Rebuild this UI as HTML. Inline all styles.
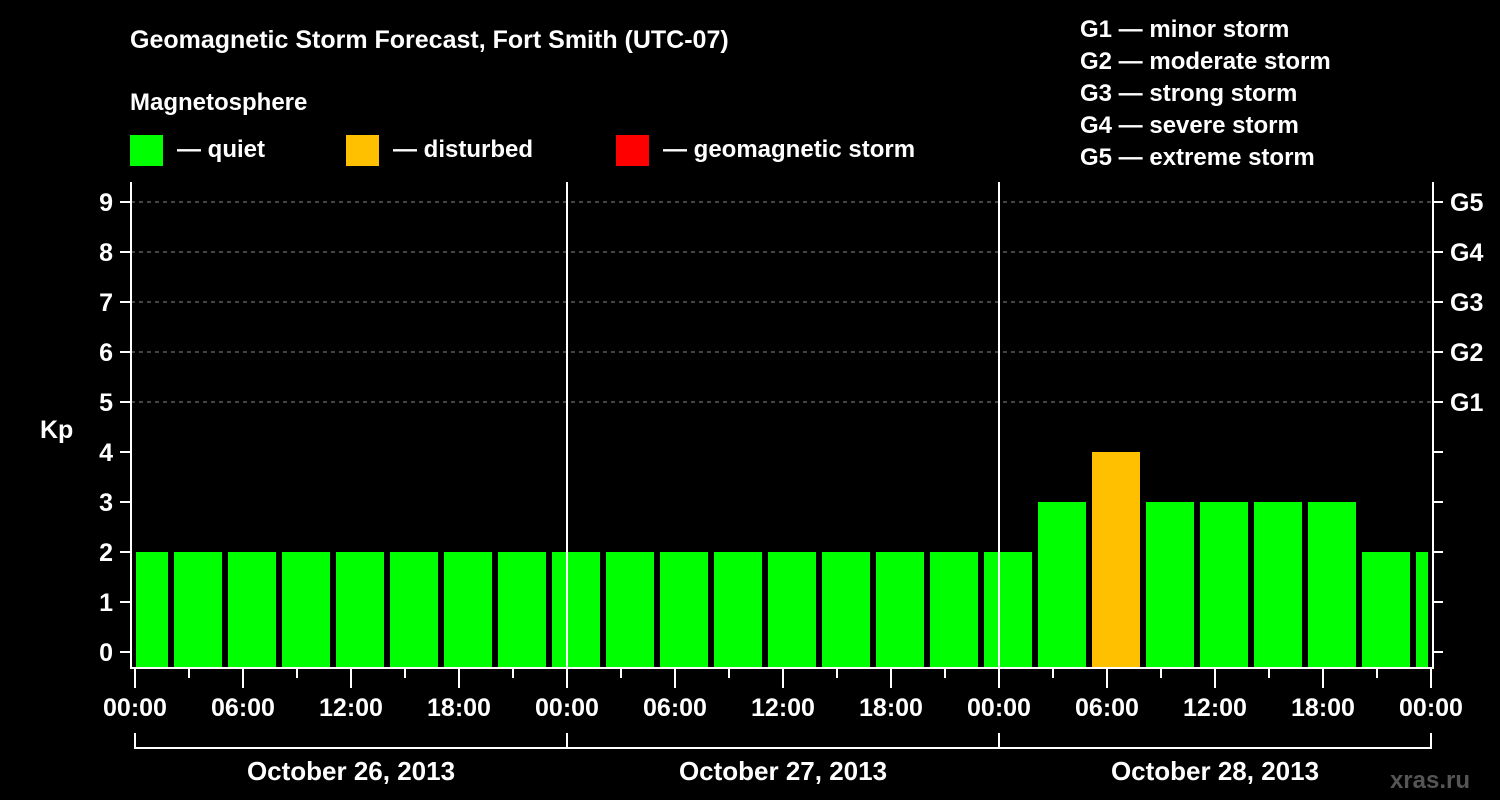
<!DOCTYPE html>
<html><head><meta charset="utf-8"><style>
body{margin:0;background:#000;width:1500px;height:800px;overflow:hidden}
svg{display:block;font-family:"Liberation Sans",Arial,sans-serif;font-weight:bold;fill:#fff}
</style></head><body>
<svg id="c" width="1500" height="800" viewBox="0 0 1500 800">
<text x="130" y="48" font-size="25">Geomagnetic Storm Forecast, Fort Smith (UTC-07)</text>
<text x="130" y="110" font-size="24">Magnetosphere</text>
<g><rect x="130" y="135" width="33" height="31" fill="#00ff00"/><text x="177" y="157" font-size="24">— quiet</text></g>
<g><rect x="346" y="135" width="33" height="31" fill="#ffc000"/><text x="393" y="157" font-size="24">— disturbed</text></g>
<g><rect x="616" y="135" width="33" height="31" fill="#ff0000"/><text x="663" y="157" font-size="24">— geomagnetic storm</text></g>
<g font-size="24">
<text x="1080" y="37">G1 — minor storm</text>
<text x="1080" y="69">G2 — moderate storm</text>
<text x="1080" y="101">G3 — strong storm</text>
<text x="1080" y="133">G4 — severe storm</text>
<text x="1080" y="165">G5 — extreme storm</text>
</g>
<text x="40" y="438" font-size="25">Kp</text>
<text x="1470" y="788" font-size="24" fill="#555" style="fill:#555" text-anchor="end">xras.ru</text>
<g id="plot"></g>
</svg>
<script>
const kpValues=[2,2,2,2,2,2,2,2,2,2,2,2,2,2,2,2,2,3,4,3,3,3,3,2,2];
const kpTicks=[0,1,2,3,4,5,6,7,8,9];
const gLabels=["G1","G2","G3","G4","G5"];
const hourLabels=["00:00","06:00","12:00","18:00","00:00","06:00","12:00","18:00","00:00","06:00","12:00","18:00","00:00"];
const dayLabels=["October 26, 2013","October 27, 2013","October 28, 2013"];
const NS="http://www.w3.org/2000/svg";
const g=document.getElementById('plot');
const X0=135,PXH=18,L=131,R=1433,T=182,B=668;
const x=h=>X0+h*PXH;
const y=v=>652-v*50;
function mk(t,a,p){const e=document.createElementNS(NS,t);for(const k in a)e.setAttribute(k,a[k]);(p||g).appendChild(e);return e;}
// clip
const defs=mk('defs',{});const cp=mk('clipPath',{id:'cp'},defs);mk('rect',{x:L+5,y:T,width:R-L-5-5,height:B-T},cp);
// grid
for(let v=5;v<=9;v++){const e=mk('line',{x1:L,x2:R,y1:y(v),y2:y(v),stroke:'#888','stroke-dasharray':'4,4','stroke-width':1});

}
// bars
const bg=mk('g',{'clip-path':'url(#cp)'});
kpValues.forEach((v,i)=>{const c=X0+(0.5+3*i)*PXH;
const r=mk('rect',{x:c-24,y:y(v),width:48,height:B-1-y(v),fill:v>=5?'#ff0000':v>=4?'#ffc000':'#00ff00'},bg);

});
// axes
const ax=mk('path',{d:`M${L},${T}V${B}H${R}V${T}`,stroke:'#fff','stroke-width':2,fill:'none'});


[24,48].forEach(h=>{const e=mk('line',{x1:x(h),x2:x(h),y1:T,y2:B,stroke:'#fff','stroke-width':2});

});
kpTicks.forEach(v=>{mk('line',{x1:120,x2:L,y1:y(v),y2:y(v),stroke:'#fff','stroke-width':2});
mk('line',{x1:R,x2:1443,y1:y(v),y2:y(v),stroke:'#fff','stroke-width':2});
const t=mk('text',{x:113,y:y(v)+9,'font-size':25,'text-anchor':'end'});t.textContent=v;

});
gLabels.forEach((s,i)=>{const t=mk('text',{x:1450,y:y(5+i)+9,'font-size':25});t.textContent=s;

});
for(let h=0;h<=72;h+=3){const maj=h%6===0;mk('line',{x1:x(h),x2:x(h),y1:B,y2:maj?688:678,stroke:'#fff','stroke-width':2});}
hourLabels.forEach((s,i)=>{const t=mk('text',{x:x(i*6),y:716,'font-size':25,'text-anchor':'middle'});t.textContent=s;

});
mk('path',{d:`M${x(0)},733V748H${x(72)}V733M${x(24)},733V748M${x(48)},733V748`,stroke:'#fff','stroke-width':2,fill:'none'});
dayLabels.forEach((s,i)=>{const t=mk('text',{x:x(i*24+12),y:780,'font-size':26,'text-anchor':'middle'});t.textContent=s;

});
</script>
</body></html>
